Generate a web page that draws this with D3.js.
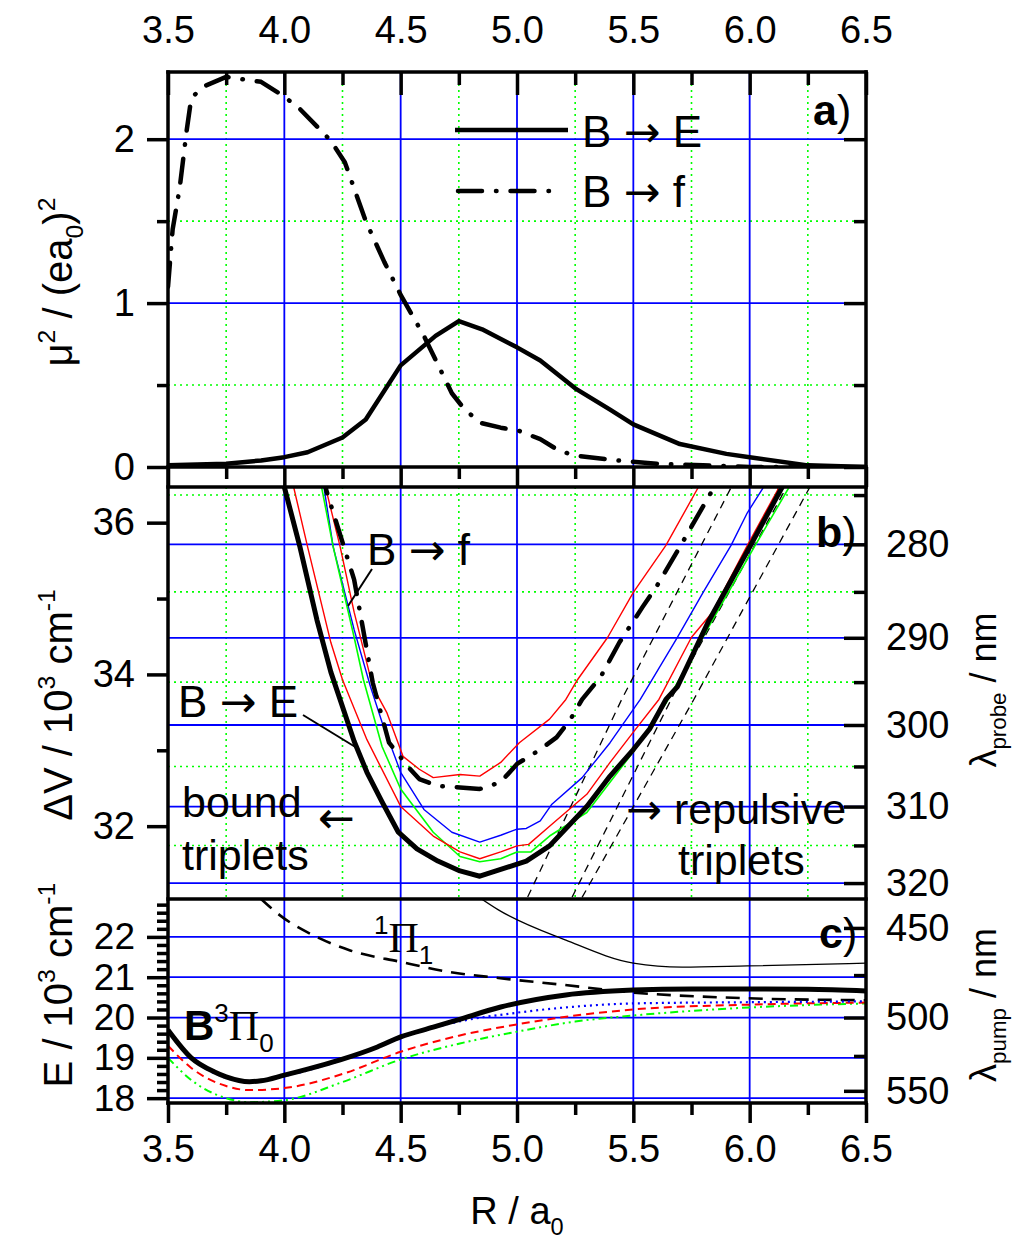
<!DOCTYPE html>
<html>
<head>
<meta charset="utf-8">
<script src="https://cdn.jsdelivr.net/npm/d3@7"></script>
<style>
body { margin: 0; background: #fff; }
svg { display: block; font-family: "Liberation Sans", Arial, sans-serif; }
</style>
</head>
<body>
<svg id="chart" width="1018" height="1244"></svg>
<script>
// ---- axis ticks ----
const X_MAJOR = [3.5, 4.0, 4.5, 5.0, 5.5, 6.0, 6.5];
const X_MINOR = [3.75, 4.25, 4.75, 5.25, 5.75, 6.25];
const MU_MAJOR = [0, 1, 2];
const MU_MINOR = [0.5, 1.5];
const DV_MAJOR = [32, 34, 36];
const DV_MINOR = [33, 35];
const PROBE_MAJOR = [280, 290, 300, 310, 320];
const PROBE_MINOR = [275, 285, 295, 305, 315];
const E_MAJOR = [18, 19, 20, 21, 22];
const PUMP_MAJOR = [450, 500, 550];
const PUMP_MINOR = [475, 525];

// ---- panel a: transition dipole moments ----
const rA_BE = [3.5, 3.75, 3.9, 4.0, 4.1, 4.25, 4.35, 4.5, 4.65, 4.75, 4.85, 5.0, 5.1, 5.25, 5.4, 5.5, 5.7, 5.9, 6.0, 6.25, 6.5];
const muBE  = [0.01, 0.02, 0.04, 0.06, 0.09, 0.18, 0.29, 0.62, 0.8, 0.89, 0.84, 0.73, 0.65, 0.48, 0.35, 0.26, 0.14, 0.08, 0.06, 0.01, 0.0];
const rA_Bf = [3.5, 3.52, 3.55, 3.58, 3.6, 3.65, 3.75, 3.9, 4.0, 4.07, 4.2, 4.26, 4.35, 4.43, 4.5, 4.6, 4.72, 4.77, 4.84, 4.93, 5.01, 5.1, 5.18, 5.25, 5.43, 5.6, 5.8, 6.0, 6.5];
const muBf  = [1.1, 1.45, 1.7, 2.05, 2.25, 2.32, 2.38, 2.35, 2.26, 2.18, 1.99, 1.86, 1.5, 1.25, 1.05, 0.8, 0.45, 0.36, 0.27, 0.24, 0.22, 0.17, 0.1, 0.07, 0.04, 0.02, 0.01, 0, 0];

// ---- panel b: difference potentials ----
const rB_BE = [3.98, 4.0, 4.067, 4.14, 4.2, 4.3, 4.355, 4.42, 4.49, 4.57, 4.66, 4.755, 4.84, 4.93, 5.04, 5.14, 5.3, 5.4, 5.5, 5.57, 5.64, 5.69, 5.82, 6.0, 6.14, 6.17];
const dvBE  = [36.7, 36.47, 35.68, 34.72, 34.03, 33.12, 32.71, 32.32, 31.92, 31.7, 31.54, 31.41, 31.34, 31.43, 31.54, 31.74, 32.26, 32.66, 33.01, 33.28, 33.67, 33.84, 34.68, 35.68, 36.47, 36.7];
const rB_Bf = [4.17, 4.18, 4.3, 4.38, 4.45, 4.53, 4.58, 4.66, 4.755, 4.84, 4.93, 5.0, 5.09, 5.17, 5.23, 5.28, 5.36, 5.44, 5.54, 5.6, 5.7, 5.84, 5.86];
const dvBf  = [36.7, 36.43, 35.25, 33.89, 33.1, 32.79, 32.62, 32.53, 32.51, 32.49, 32.58, 32.82, 32.99, 33.17, 33.41, 33.67, 33.97, 34.42, 34.89, 35.16, 35.68, 36.43, 36.7];
const rB_red1 = [4.03, 4.04, 4.1, 4.2, 4.25, 4.355, 4.5, 4.64, 4.755, 4.84, 4.93, 5.0, 5.05, 5.14, 5.3, 5.4, 5.5, 5.61, 5.75, 5.84, 5.99, 6.12, 6.14];
const dvRed1  = [36.7, 36.47, 35.68, 34.42, 33.93, 33.14, 32.26, 31.87, 31.66, 31.57, 31.66, 31.74, 31.76, 32.0, 32.42, 32.84, 33.24, 33.67, 34.49, 34.82, 35.7, 36.43, 36.7];
const rB_green = [4.15, 4.16, 4.21, 4.3, 4.34, 4.42, 4.5, 4.64, 4.755, 4.84, 4.93, 5.0, 5.06, 5.14, 5.3, 5.5, 5.64, 5.83, 6.02, 6.17, 6.2];
const dvGreen  = [36.7, 36.47, 35.68, 34.49, 33.93, 33.05, 32.49, 31.92, 31.6, 31.53, 31.57, 31.66, 31.66, 31.87, 32.18, 32.98, 33.62, 34.66, 35.68, 36.47, 36.7];
const rB_blue = [4.16, 4.17, 4.21, 4.3, 4.37, 4.42, 4.5, 4.6, 4.72, 4.84, 4.93, 5.0, 5.04, 5.1, 5.15, 5.28, 5.4, 5.53, 5.69, 5.8, 5.92, 5.99, 6.06, 6.08];
const dvBlue  = [36.7, 36.47, 35.68, 34.59, 33.84, 33.37, 32.71, 32.22, 31.92, 31.79, 31.88, 31.96, 31.97, 32.07, 32.29, 32.64, 33.1, 33.67, 34.49, 35.08, 35.7, 36.13, 36.47, 36.7];
const rB_red2 = [4.17, 4.18, 4.24, 4.3, 4.38, 4.44, 4.51, 4.58, 4.64, 4.755, 4.84, 4.93, 5.01, 5.14, 5.21, 5.26, 5.39, 5.5, 5.64, 5.78, 5.8];
const dvRed2  = [36.7, 36.43, 35.68, 34.82, 33.84, 33.5, 32.92, 32.75, 32.64, 32.68, 32.66, 32.84, 33.1, 33.41, 33.67, 33.93, 34.49, 35.08, 35.7, 36.47, 36.7];
// repulsive triplets (thin dashed)
const rRepA = [5.02, 5.45, 5.96];
const dvRepA = [30.9, 33.67, 36.7];
const rRepB = [5.21, 5.7, 6.2];
const dvRepB = [30.9, 33.9, 36.7];
const rRepC = [5.25, 5.76, 6.3];
const dvRepC = [30.9, 33.67, 36.7];

// ---- panel c: potentials ----
const rC_B = [3.5, 3.6, 3.7, 3.75, 3.85, 3.9, 4.0, 4.1, 4.24, 4.4, 4.5, 4.64, 4.75, 4.93, 5.21, 5.5, 5.75, 6.0, 6.25, 6.5];
const eB   = [19.69, 19.0, 18.65, 18.53, 18.41, 18.43, 18.57, 18.72, 18.95, 19.27, 19.52, 19.76, 19.95, 20.26, 20.56, 20.68, 20.71, 20.71, 20.7, 20.66];
const rC_blue = [3.5, 3.6, 3.75, 3.85, 4.0, 4.25, 4.5, 4.75, 5.0, 5.25, 5.5, 6.0, 6.5];
const eBlue   = [19.65, 19.0, 18.5, 18.4, 18.55, 18.95, 19.5, 19.9, 20.12, 20.27, 20.35, 20.38, 20.4];
const rC_red = [3.5, 3.6, 3.75, 3.85, 4.0, 4.25, 4.5, 4.75, 5.0, 5.25, 5.5, 6.0, 6.5];
const eRed   = [19.3, 18.75, 18.3, 18.2, 18.25, 18.6, 19.15, 19.55, 19.83, 20.05, 20.2, 20.32, 20.37];
const rC_green = [3.5, 3.6, 3.75, 3.85, 4.0, 4.25, 4.5, 4.75, 5.0, 5.25, 5.5, 6.0, 6.5];
const eGreen   = [19.0, 18.45, 18.0, 17.9, 17.95, 18.4, 18.96, 19.35, 19.65, 19.9, 20.05, 20.25, 20.35];
const rC_Pi1 = [3.9, 3.98, 4.15, 4.28, 4.5, 4.71, 4.92, 5.2, 5.48, 5.98, 6.5];
const ePi1   = [22.94, 22.54, 21.97, 21.67, 21.38, 21.13, 20.98, 20.81, 20.63, 20.48, 20.43];
const rC_thin = [4.84, 4.92, 5.21, 5.5, 5.71, 5.99, 6.5];
const eThin   = [22.97, 22.67, 21.92, 21.35, 21.25, 21.28, 21.35];

// ---- layout ----
const svg = d3.select('#chart');
const left = 168, right = 866;
const aTop = 72, aBot = 467, bTop = 487, bBot = 899, cBot = 1103;

const x = d3.scaleLinear().domain([3.5, 6.5]).range([left, right]);
const yA = d3.scaleLinear().domain([0, 2.41]).range([aBot, aTop]);
const yB = d3.scaleLinear().domain([31.04, 36.47]).range([bBot, bTop]);
const yC = d3.scaleLinear().domain([17.88, 22.94]).range([cBot, bBot]);

const BLUE = '#0000ff', GREEN = '#00ff00', RED = '#ff0000';

// clip paths per panel
const defs = svg.append('defs');
[['clipA', aTop, aBot], ['clipB', bTop, bBot], ['clipC', bBot, cBot]].forEach(([id, t, b]) => {
    defs.append('clipPath').attr('id', id).append('rect')
        .attr('x', left).attr('y', t).attr('width', right - left).attr('height', b - t);
});

// grid helper
function grid(top, bot, xs, ys, yScale, color, dash) {
    const g = svg.append('g').attr('stroke', color).attr('stroke-width', dash ? 1.6 : 1.8)
        .attr('stroke-dasharray', dash);
    g.selectAll(null).data(xs).enter().append('line')
        .attr('x1', d => x(d)).attr('x2', d => x(d)).attr('y1', top).attr('y2', bot);
    g.selectAll(null).data(ys).enter().append('line')
        .attr('x1', left).attr('x2', right).attr('y1', d => yScale(d)).attr('y2', d => yScale(d));
}
const xInner = X_MAJOR.slice(1, -1);
const inv = l => 1e4 / l; // nm -> 10^3 cm^-1

grid(aTop, aBot, X_MINOR, MU_MINOR, yA, GREEN, '2,4');
grid(aTop, aBot, xInner, [1, 2], yA, BLUE, null);
grid(bTop, bBot, X_MINOR, PROBE_MINOR.map(inv), yB, GREEN, '2,4');
grid(bTop, bBot, xInner, PROBE_MAJOR.map(inv), yB, BLUE, null);
grid(bBot, cBot, xInner, E_MAJOR, yC, BLUE, null);

// curve helper
function curve(clip, xs, ys, yScale, color, width, dash, smooth) {
    const pts = xs.map((r, i) => [r, ys[i]]);
    const line = d3.line().x(d => x(d[0])).y(d => yScale(d[1]))
        .curve(smooth ? d3.curveMonotoneX : d3.curveLinear);
    svg.append('path').attr('clip-path', `url(#${clip})`)
        .attr('d', line(pts)).attr('fill', 'none')
        .attr('stroke', color).attr('stroke-width', width)
        .attr('stroke-dasharray', dash)
        .attr('stroke-linecap', dash && dash.split(',').length === 4 ? 'round' : 'butt')
        .attr('stroke-linejoin', 'round');
}
const DASHDOT = '24,14,0.5,14';

// panel a
curve('clipA', rA_BE, muBE, yA, '#000', 4.5, null);
curve('clipA', rA_Bf, muBf, yA, '#000', 4.5, DASHDOT);

// panel b
curve('clipB', rRepA, dvRepA, yB, '#000', 1.3, '8,6');
curve('clipB', rRepB, dvRepB, yB, '#000', 1.3, '8,6');
curve('clipB', rRepC, dvRepC, yB, '#000', 1.3, '8,6');
curve('clipB', rB_red2, dvRed2, yB, RED, 1.4, null);
curve('clipB', rB_blue, dvBlue, yB, BLUE, 1.4, null);
curve('clipB', rB_green, dvGreen, yB, GREEN, 1.6, null);
curve('clipB', rB_red1, dvRed1, yB, RED, 1.4, null);
curve('clipB', rB_Bf, dvBf, yB, '#000', 4.5, DASHDOT);
curve('clipB', rB_BE, dvBE, yB, '#000', 5, null);

// panel c
curve('clipC', rC_thin, eThin, yC, '#000', 1.3, null, true);
curve('clipC', rC_Pi1, ePi1, yC, '#000', 2.6, '14,9', true);
curve('clipC', rC_green, eGreen, yC, GREEN, 2, '8,4,2,4,2,4', true);
curve('clipC', rC_red, eRed, yC, RED, 2, '8,5', true);
curve('clipC', rC_blue, eBlue, yC, BLUE, 2.2, '2,4', true);
curve('clipC', rC_B, eB, yC, '#000', 5, null, true);

// ---- axes ----
function styleAxis(g, fs) {
    g.select('.domain').remove();
    g.selectAll('.tick line').attr('stroke', '#000').attr('stroke-width', 3.5);
    g.selectAll('.tick text').attr('font-size', fs || 38).attr('fill', '#000')
        .attr('font-family', '"Liberation Sans", Arial, sans-serif');
}
function addAxis(axis, tx, ty, fs) {
    const g = svg.append('g').attr('transform', `translate(${tx},${ty})`).call(axis);
    styleAxis(g, fs);
    return g;
}
const fmtX = d3.format('.1f');
const none = () => '';

// top (panel a), ticks inward
addAxis(d3.axisTop(x).tickValues(X_MAJOR).tickFormat(fmtX).tickSizeInner(-23).tickSizeOuter(0).tickPadding(29), 0, aTop);
addAxis(d3.axisTop(x).tickValues(X_MINOR).tickFormat(none).tickSizeInner(-13).tickSizeOuter(0), 0, aTop);
// panel a bottom, outward
addAxis(d3.axisBottom(x).tickValues(X_MAJOR).tickFormat(none).tickSizeInner(20).tickSizeOuter(0), 0, aBot);
addAxis(d3.axisBottom(x).tickValues(X_MINOR).tickFormat(none).tickSizeInner(12).tickSizeOuter(0), 0, aBot);
// bottom (panel c)
addAxis(d3.axisBottom(x).tickValues(X_MAJOR).tickFormat(fmtX).tickSizeInner(20).tickSizeOuter(0).tickPadding(12), 0, cBot);
addAxis(d3.axisBottom(x).tickValues(X_MINOR).tickFormat(none).tickSizeInner(12).tickSizeOuter(0), 0, cBot);

// left axes, outward
addAxis(d3.axisLeft(yA).tickValues(MU_MAJOR).tickFormat(d3.format('d')).tickSizeInner(21).tickSizeOuter(0).tickPadding(12), left, 0);
addAxis(d3.axisLeft(yA).tickValues(MU_MINOR).tickFormat(none).tickSizeInner(11).tickSizeOuter(0), left, 0);
addAxis(d3.axisLeft(yB).tickValues(DV_MAJOR).tickFormat(d3.format('d')).tickSizeInner(21).tickSizeOuter(0).tickPadding(12), left, 0);
addAxis(d3.axisLeft(yB).tickValues(DV_MINOR).tickFormat(none).tickSizeInner(11).tickSizeOuter(0), left, 0);
addAxis(d3.axisLeft(yC).tickValues(E_MAJOR).tickFormat(d3.format('d')).tickSizeInner(21).tickSizeOuter(0).tickPadding(12), left, 0, 37);
addAxis(d3.axisLeft(yC).tickValues(d3.range(180, 230, 2).map(v => v / 10).filter(v => v % 1 !== 0))
    .tickFormat(none).tickSizeInner(11).tickSizeOuter(0), left, 0);

// right axes, inward
addAxis(d3.axisRight(yA).tickValues(MU_MAJOR).tickFormat(none).tickSizeInner(-22).tickSizeOuter(0), right, 0);
addAxis(d3.axisRight(yA).tickValues(MU_MINOR).tickFormat(none).tickSizeInner(-12).tickSizeOuter(0), right, 0);
addAxis(d3.axisRight(yB).tickValues(PROBE_MAJOR.map(inv)).tickFormat((v, i) => PROBE_MAJOR[i])
    .tickSizeInner(-22).tickSizeOuter(0).tickPadding(20), right, 0);
addAxis(d3.axisRight(yB).tickValues(PROBE_MINOR.map(inv)).tickFormat(none).tickSizeInner(-12).tickSizeOuter(0), right, 0);
addAxis(d3.axisRight(yC).tickValues(PUMP_MAJOR.map(inv)).tickFormat((v, i) => PUMP_MAJOR[i])
    .tickSizeInner(-22).tickSizeOuter(0).tickPadding(20), right, 0);
addAxis(d3.axisRight(yC).tickValues(PUMP_MINOR.map(inv)).tickFormat(none).tickSizeInner(-12).tickSizeOuter(0), right, 0);

// frame
const frame = svg.append('g').attr('stroke', '#000').attr('stroke-width', 3.5).attr('stroke-linecap', 'square');
[left, right].forEach(xx => frame.append('line').attr('x1', xx).attr('x2', xx).attr('y1', aTop).attr('y2', cBot));
[aTop, aBot, bTop, bBot, cBot].forEach(yy => frame.append('line').attr('x1', left).attr('x2', right).attr('y1', yy).attr('y2', yy));

// ---- text helpers ----
const ARROW_FONT = '"DejaVu Sans", sans-serif';
function rich(sel, parts, fs) {
    let shift = 0;
    parts.forEach(p => {
        const [t, kind, fam, weight] = p;
        const target = kind === 'sup' ? -0.42 * fs : kind === 'sub' ? 0.28 * fs : 0;
        sel.append('tspan').attr('dy', target - shift)
            .attr('font-size', kind === 'n' ? fs : fs * 0.62)
            .attr('font-family', fam || null)
            .attr('font-weight', weight || null)
            .text(t);
        shift = target;
    });
    return sel;
}
function label(xx, yy, parts, fs, opts) {
    opts = opts || {};
    const t = svg.append('text').attr('x', xx).attr('y', yy).attr('fill', '#000')
        .attr('text-anchor', opts.anchor || 'start');
    if (opts.rotate) t.attr('transform', `rotate(-90,${xx},${yy})`);
    return rich(t, parts, fs);
}

// axis titles
label(72, 282, [['μ', 'n'], ['2', 'sup'], [' / (ea', 'n'], ['0', 'sub'], [')', 'n'], ['2', 'sup']], 40, { rotate: true, anchor: 'middle' });
label(72, 705, [['ΔV / 10', 'n'], ['3', 'sup'], [' cm', 'n'], ['-1', 'sup']], 40, { rotate: true, anchor: 'middle' });
label(72, 985, [['E / 10', 'n'], ['3', 'sup'], [' cm', 'n'], ['-1', 'sup']], 40, { rotate: true, anchor: 'middle' });
label(996, 690, [['λ', 'n'], ['probe', 'sub'], [' / nm', 'n']], 36, { rotate: true, anchor: 'middle' });
label(996, 1005, [['λ', 'n'], ['pump', 'sub'], [' / nm', 'n']], 36, { rotate: true, anchor: 'middle' });
label(517, 1224, [['R / a', 'n'], ['0', 'sub']], 38, { anchor: 'middle' });

// panel letters
label(813, 125, [['a', 'n', null, 'bold'], [')', 'n']], 43);
label(816, 547, [['b', 'n', null, 'bold'], [')', 'n']], 43);
label(819, 948, [['c', 'n', null, 'bold'], [')', 'n']], 43);

// legend (panel a)
const legend = svg.append('g').attr('stroke', '#000').attr('stroke-width', 4.5);
legend.append('line').attr('x1', 455).attr('x2', 568).attr('y1', 130).attr('y2', 130);
legend.append('line').attr('x1', 458).attr('x2', 555).attr('y1', 191).attr('y2', 191)
    .attr('stroke-dasharray', DASHDOT).attr('stroke-linecap', 'round');
label(582, 147, [['B ', 'n'], ['→', 'n', ARROW_FONT], [' E', 'n']], 44);
label(582, 207, [['B ', 'n'], ['→', 'n', ARROW_FONT], [' f', 'n']], 44);

// panel b annotations
label(367, 565, [['B ', 'n'], ['→', 'n', ARROW_FONT], [' f', 'n']], 44);
label(178, 717, [['B ', 'n'], ['→', 'n', ARROW_FONT], [' E', 'n']], 44);
const leaders = svg.append('g').attr('stroke', '#000').attr('stroke-width', 2);
leaders.append('line').attr('x1', 372).attr('y1', 569).attr('x2', 348).attr('y2', 606);
leaders.append('line').attr('x1', 303).attr('y1', 715).attr('x2', 357).attr('y2', 748);
label(182, 817, [['bound', 'n']], 43);
label(182, 870, [['triplets', 'n']], 43);
label(318, 833, [['←', 'n', ARROW_FONT]], 44);
label(626, 824, [['→', 'n', ARROW_FONT], [' repulsive', 'n']], 43);
label(678, 875, [['triplets', 'n']], 43);

// panel c annotations
const SERIF = '"Liberation Serif", "DejaVu Serif", serif';
label(184, 1040, [['B', 'n', null, 'bold'], ['3', 'sup'], ['Π', 'n', SERIF], ['0', 'sub']], 42);
label(374, 952, [['1', 'sup'], ['Π', 'n', SERIF], ['1', 'sub']], 42);
</script>
</body>
</html>
